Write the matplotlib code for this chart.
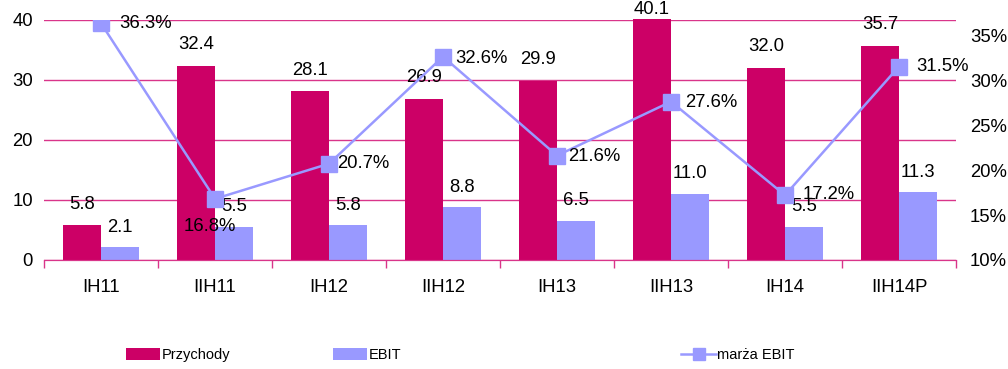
import numpy as np
import matplotlib.pyplot as plt
from matplotlib.lines import Line2D
from matplotlib.patches import Patch

plt.rcParams["font.family"] = ["Liberation Sans", "DejaVu Sans"]

# Data
periods = ["IH11", "IIH11", "IH12", "IIH12", "IH13", "IIH13", "IH14", "IIH14P"]
przychody = [5.8, 32.4, 28.1, 26.9, 29.9, 40.1, 32.0, 35.7]
ebit = [2.1, 5.5, 5.8, 8.8, 6.5, 11.0, 5.5, 11.3]
marza = [36.3, 16.8, 20.7, 32.6, 21.6, 27.6, 17.2, 31.5]

c_rev = "#CC0066"
c_ebit = "#9999FF"
c_grid = "#D9358A"
fs = 13.3

fig = plt.figure(figsize=(10.08, 3.69), dpi=100)
ax = fig.add_axes([0.0437, 0.2954, 0.9047, 0.6504])
ax2 = ax.twinx()

x = np.arange(len(periods))
w = 0.333
ax.bar(x - w / 2, przychody, w, color=c_rev, zorder=2, clip_on=False)
ax.bar(x + w / 2, ebit, w, color=c_ebit, zorder=2)

# bar labels
for i in x:
    dy = 10 if przychody[i] >= 39 else 21
    ax.annotate(f"{przychody[i]:.1f}", (i - w / 2, min(przychody[i], 40)), xytext=(0, dy),
                textcoords="offset pixels", ha="center", va="center", fontsize=fs,
                annotation_clip=False)
    ax.annotate(f"{ebit[i]:.1f}", (i + w / 2, ebit[i]), xytext=(0, 20),
                textcoords="offset pixels", ha="center", va="center", fontsize=fs)

ax.set_xlim(-0.5, len(periods) - 0.5)
ax.set_ylim(0, 40)
ax.set_yticks([0, 10, 20, 30, 40])
ax.yaxis.grid(True, color=c_grid, linewidth=1.0, zorder=0)
ax.set_axisbelow(True)
ax.set_xticks(x)
ax.set_xticklabels(periods)
ax.set_xticks(np.arange(len(periods) + 1) - 0.5, minor=True)
ax.tick_params(axis="x", which="major", length=0, pad=14, labelsize=fs)
ax.tick_params(axis="x", which="minor", length=6, color=c_grid, width=1)
ax.tick_params(axis="y", length=0, pad=8, labelsize=fs)

# EBIT margin line
ax2.plot(x, marza, color=c_ebit, linewidth=1.8, marker="s", markersize=11,
         zorder=3)
ax2.set_ylim(10, 36.67)
ax2.set_yticks([10, 15, 20, 25, 30, 35])
ax2.set_yticklabels([f"{v}%" for v in [10, 15, 20, 25, 30, 35]])
ax2.tick_params(axis="y", length=0, pad=10, labelsize=fs)

offsets = [(18, 0), (-5, -28), (8, 0), (12, -2), (11, -1), (14, -1), (18, 1), (17, 0)]
for i in x:
    dx, dy = offsets[i]
    ha = "center" if i == 1 else "left"
    ax2.annotate(f"{marza[i]:.1f}%", (i, marza[i]), xytext=(dx, dy),
                 textcoords="offset pixels", ha=ha, va="center", fontsize=fs,
                 annotation_clip=False)

for a in (ax, ax2):
    for s in ["left", "right", "top"]:
        a.spines[s].set_visible(False)
    a.spines["bottom"].set_color(c_grid)

# legend
items = [
    (Patch(facecolor=c_rev), "Przychody", 0.125),
    (Patch(facecolor=c_ebit), "EBIT", 0.330),
    (Line2D([], [], color=c_ebit, linewidth=1.8, marker="s", markersize=9), "marża EBIT", 0.676),
]
for h, lab, xpos in items:
    fig.legend([h], [lab], loc="center left", bbox_to_anchor=(xpos, 0.038),
               frameon=False, fontsize=10.5,
               handlelength=2.35, handleheight=0.85,
               handletextpad=0.1, borderpad=0, borderaxespad=0)

fig.savefig("out.png", dpi=100)
